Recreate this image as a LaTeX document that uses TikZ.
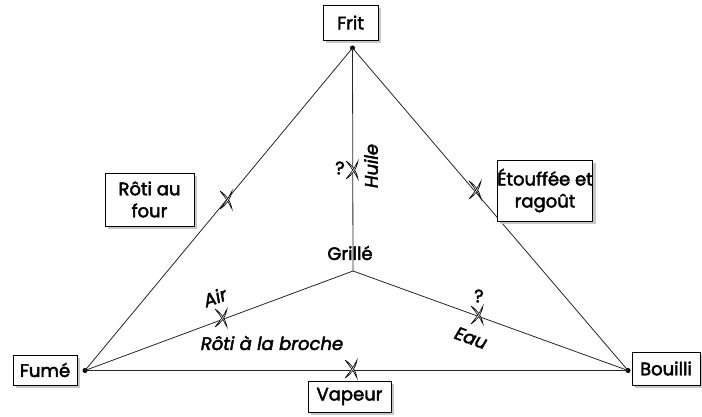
\documentclass[tikz,border=0pt]{standalone}
\usepackage{fontspec}
\setmainfont{Poppins}[UprightFeatures={FakeBold=2.5}, ItalicFeatures={FakeBold=2.5}]
\begin{document}
\begin{tikzpicture}[x=1pt,y=-1pt,
  box/.style={draw=black, line width=0.8pt, fill=white, align=center, inner sep=0pt,
    font=\fontsize{18}{22}\selectfont,
    preaction={fill=black!22, transform canvas={shift={(3pt,-3pt)}}}},
  edge/.style={line width=0.8pt, draw=black!85},
  lab/.style={font=\fontsize{18}{21}\selectfont},
  ilab/.style={font=\fontsize{18}{21}\selectfont\itshape},
  vdot/.style={circle, fill=black, inner sep=0pt, minimum size=5pt},
  xmark/.pic={
    \draw[line width=0.6pt, fill=white] (-6,-9) to[bend left=22] (6,9) to[bend right=6] (-6,-9);
    \draw[line width=0.6pt, fill=white] (-6,9) to[bend right=22] (6,-9) to[bend left=6] (-6,9);
  }]
\useasboundingbox (0,0) rectangle (702,417);
% vertices
\node[vdot] (vF) at (352.5,48) {};
\node[vdot] (vL) at (85,370.5) {};
\node[vdot] (vR) at (628,370.5) {};
\coordinate (G) at (353,271);
% edges
\draw[edge] (vL.center) -- (vF.center);
\draw[edge] (vF.center) -- (vR.center);
\draw[edge] (vL.center) -- (vR.center);
\draw[edge] (vF.center) -- (G);
\draw[edge] (G) -- (vL.center);
\draw[edge] (G) -- (vR.center);
% cross markers
\pic at (352,170) {xmark};
\pic at (226,200) {xmark};
\pic at (475,190) {xmark};
\pic at (221,318) {xmark};
\pic at (477,315) {xmark};
\pic at (351,369) {xmark};
% boxes
\node[box, minimum width=55pt, minimum height=35pt] (frit) at (350.5,22.5) {Frit};
\node[box, minimum width=89pt, minimum height=53pt] (four) at (149.5,199.5) {Rôti au\\four};
\node[box, minimum width=80pt, minimum height=61pt] (etouf) at (545,190.5) {Étouffée et\\ragoût};
\node[box, minimum width=64pt, minimum height=30pt] (fume) at (45,370) {Fumé};
\node[box, minimum width=68pt, minimum height=33pt] (bouilli) at (666,368.5) {Bouilli};
\node[box, minimum width=83pt, minimum height=31pt] (vapeur) at (349.5,396.5) {Vapeur};
% labels
\node[lab] (grille) at (350,253) {Grillé};
\node[lab] (q1) at (340,168) {?};
\node[ilab, rotate=90] (huile) at (371,166) {Huile};
\node[ilab, rotate=20] (air) at (215,297) {Air};
\node[ilab] (broche) at (272,343) {Rôti à la broche};
\node[lab] (q2) at (479,296) {?};
\node[ilab, rotate=-20] (eau) at (471,338) {Eau};
\end{tikzpicture}
\end{document}
